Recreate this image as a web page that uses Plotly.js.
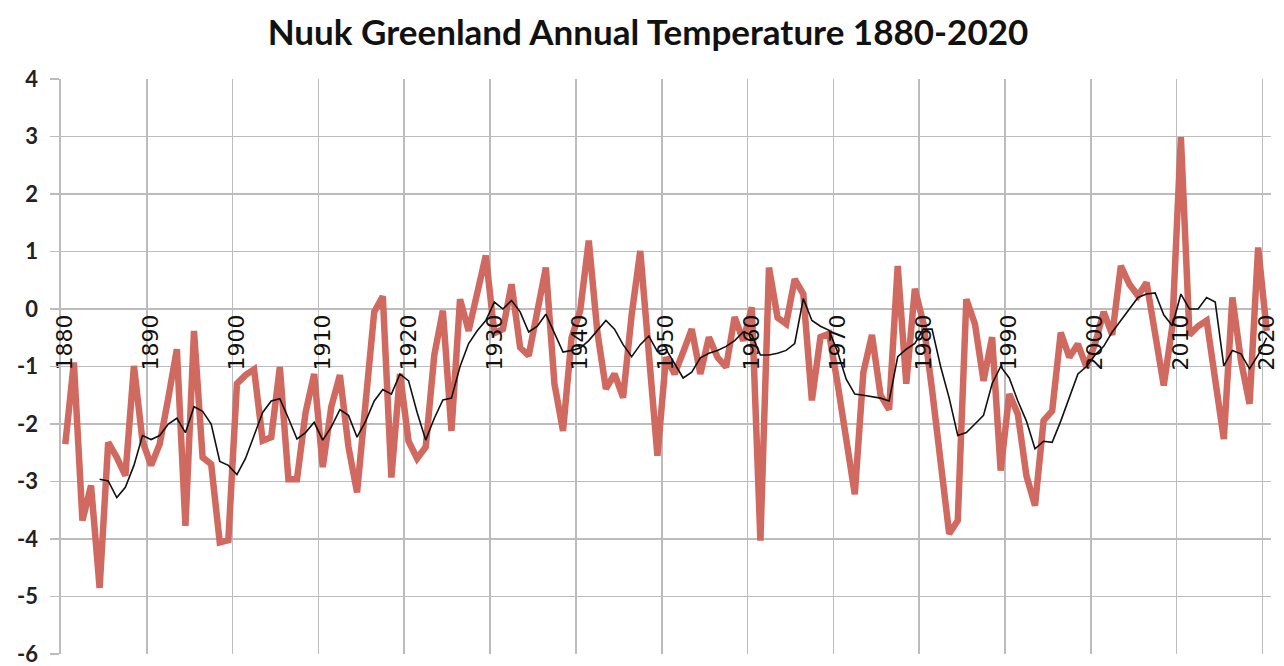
<!DOCTYPE html>
<html>
<head>
<meta charset="utf-8">
<script src="https://cdn.plot.ly/plotly-3.0.1.min.js"></script>
<style>
  html, body { margin: 0; padding: 0; background: #ffffff; }
  #chart { width: 1284px; height: 666px; }
</style>
</head>
<body>
<div id="chart"></div>
<script>
// Annual temperature, Nuuk (1880-2020)
const years = [];
for (let y = 1880; y <= 2020; y++) years.push(y);

const annualTemp = [
  -2.35, -0.93, -3.68, -3.07, -4.85, -2.32, -2.58, -2.90, -0.99, -2.30,   // 1880-1889
  -2.72, -2.35, -1.55, -0.70, -3.77, -0.38, -2.58, -2.70, -4.06, -4.02,   // 1890-1899
  -1.30, -1.15, -1.05, -2.29, -2.23, -1.01, -2.96, -2.96, -1.80, -1.13,   // 1900-1909
  -2.75, -1.70, -1.15, -2.40, -3.19, -1.50, -0.05,  0.22, -2.93, -1.13,   // 1910-1919
  -2.30, -2.60, -2.40, -0.80, -0.03, -2.12,  0.17, -0.38,  0.25,  0.93,   // 1920-1929
  -0.42, -0.35,  0.43, -0.67, -0.81, -0.10,  0.72, -1.30, -2.12, -0.50,   // 1930-1939
  -0.03,  1.19, -0.40, -1.39, -1.13, -1.54, -0.10,  1.01, -0.90, -2.55,   // 1940-1949
  -0.84, -1.13, -0.75, -0.35, -1.13, -0.49, -0.84, -1.01, -0.14, -0.55,   // 1950-1959
   0.03, -4.03,  0.72, -0.15, -0.26,  0.52,  0.26, -1.59, -0.49, -0.43,   // 1960-1969
  -1.30, -2.20, -3.22, -1.10, -0.45, -1.50, -1.75,  0.75, -1.30,  0.35,   // 1970-1979
  -0.25, -1.40, -2.70, -3.91, -3.68,  0.17, -0.26, -1.25, -0.49, -2.81,   // 1980-1989
  -1.48, -1.83, -2.90, -3.42, -1.94, -1.77, -0.41, -0.84, -0.61, -1.01,   // 1990-1999
  -0.60, -0.05, -0.45,  0.75,  0.43,  0.23,  0.46, -0.50, -1.33, -0.30,   // 2000-2009
   2.99, -0.45, -0.30, -0.20, -1.20, -2.26,  0.20, -0.90, -1.65,  1.07,   // 2010-2019
  -0.38                                                                   // 2020
];

// Five-year running line (drawn from 1884)
const avgYears = [];
for (let y = 1884; y <= 2020; y++) avgYears.push(y);

const runningAvg = [
  -2.96, -2.99, -3.28, -3.10, -2.72, -2.20,                               // 1884-1889
  -2.27, -2.20, -2.00, -1.90, -2.15, -1.70, -1.78, -2.00, -2.65, -2.72,   // 1890-1899
  -2.88, -2.60, -2.20, -1.80, -1.60, -1.56, -1.90, -2.26, -2.15, -1.97,   // 1900-1909
  -2.28, -2.05, -1.75, -1.85, -2.23, -1.95, -1.60, -1.40, -1.48, -1.13,   // 1910-1919
  -1.25, -1.80, -2.28, -1.90, -1.58, -1.55, -1.00, -0.60, -0.38, -0.20,   // 1920-1929
   0.12,  0.00,  0.15, -0.05, -0.40, -0.30, -0.09, -0.43, -0.75, -0.72,   // 1930-1939
  -0.68, -0.55, -0.37, -0.20, -0.35, -0.62, -0.83, -0.62, -0.47, -0.74,   // 1940-1949
  -0.70, -0.95, -1.20, -1.10, -0.85, -0.77, -0.72, -0.65, -0.55, -0.40,   // 1950-1959
  -0.45, -0.80, -0.80, -0.77, -0.72, -0.60,  0.18, -0.20, -0.30, -0.37,   // 1960-1969
  -0.75, -1.22, -1.48, -1.50, -1.52, -1.55, -1.60, -0.83, -0.70, -0.60,   // 1970-1979
  -0.35, -0.35, -1.00, -1.55, -2.20, -2.15, -2.00, -1.85, -1.30, -1.00,   // 1980-1989
  -1.20, -1.60, -1.95, -2.43, -2.30, -2.32, -1.95, -1.55, -1.13, -1.00,   // 1990-1999
  -0.80, -0.65, -0.40, -0.20,  0.00,  0.20,  0.26,  0.28, -0.10, -0.29,   // 2000-2009
   0.26,  0.00,  0.00,  0.20,  0.12, -0.99, -0.72, -0.78, -1.04, -0.80,   // 2010-2019
  -0.50                                                                   // 2020
];

const xTickVals = [1880, 1890, 1900, 1910, 1920, 1930, 1940, 1950, 1960, 1970, 1980, 1990, 2000, 2010, 2020];
const xTickText = ['1880', '1890', '1900', '1910', '1920', '1930', '1940', '1950', '1960', '1970', '1980', '1990', '2000', '2010', '2020'];
const yTickVals = [4, 3, 2, 1, 0, -1, -2, -3, -4, -5, -6];
const yTickText = ['4', '3', '2', '1', '0', '-1', '-2', '-3', '-4', '-5', '-6'];
const chartTitle = 'Nuuk Greenland Annual Temperature 1880-2020';

const gridColor = '#bcbcbc';

const traces = [
  {
    x: years, y: annualTemp, type: 'scatter', mode: 'lines',
    line: { color: '#d0695f', width: 6.5, shape: 'linear' },
    hoverinfo: 'x+y', showlegend: false
  },
  {
    x: avgYears, y: runningAvg, type: 'scatter', mode: 'lines',
    line: { color: '#111111', width: 1.6 },
    hoverinfo: 'x+y', showlegend: false
  }
];

const layout = {
  width: 1284, height: 666,
  margin: { l: 61, r: 13, t: 79, b: 12, pad: 0 },
  paper_bgcolor: '#ffffff', plot_bgcolor: '#ffffff',
  showlegend: false,
  title: {
    text: chartTitle,
    font: { family: 'Lato, "Open Sans", sans-serif', size: 35, color: '#111111', weight: 'bold' },
    x: 0.5047, xref: 'container', xanchor: 'center',
    y: 0.951, yref: 'container', yanchor: 'middle'
  },
  xaxis: {
    range: [1879.5, 2020.5],
    anchor: 'free', position: 0.6,
    tickmode: 'array', tickvals: xTickVals, ticktext: xTickText,
    tickangle: -90,
    tickfont: { family: '"DejaVu Sans", sans-serif', size: 22, color: '#111111' },
    ticks: '', showline: false, zeroline: false,
    showgrid: false,
    ticklabeloverflow: 'allow',
    minor: { tickmode: 'linear', tick0: 1879.5, dtick: 10, showgrid: true, gridcolor: gridColor, gridwidth: 1.6, ticks: '' },
    fixedrange: true
  },
  yaxis: {
    range: [-6, 4],
    tickmode: 'array', tickvals: yTickVals, ticktext: yTickText,
    tickfont: { family: 'Lato, "Open Sans", sans-serif', size: 22, color: '#222222', weight: 'bold' },
    ticks: 'outside', ticklen: 9, tickwidth: 1.6, tickcolor: gridColor,
    ticklabelstandoff: 8,
    ticklabeloverflow: 'allow',
    showgrid: true, gridcolor: gridColor, gridwidth: 1.6,
    showline: true, linecolor: gridColor, linewidth: 1.6,
    zeroline: false,
    fixedrange: true
  }
};

Plotly.newPlot('chart', traces, layout, { staticPlot: true, displayModeBar: false });
</script>
</body>
</html>
